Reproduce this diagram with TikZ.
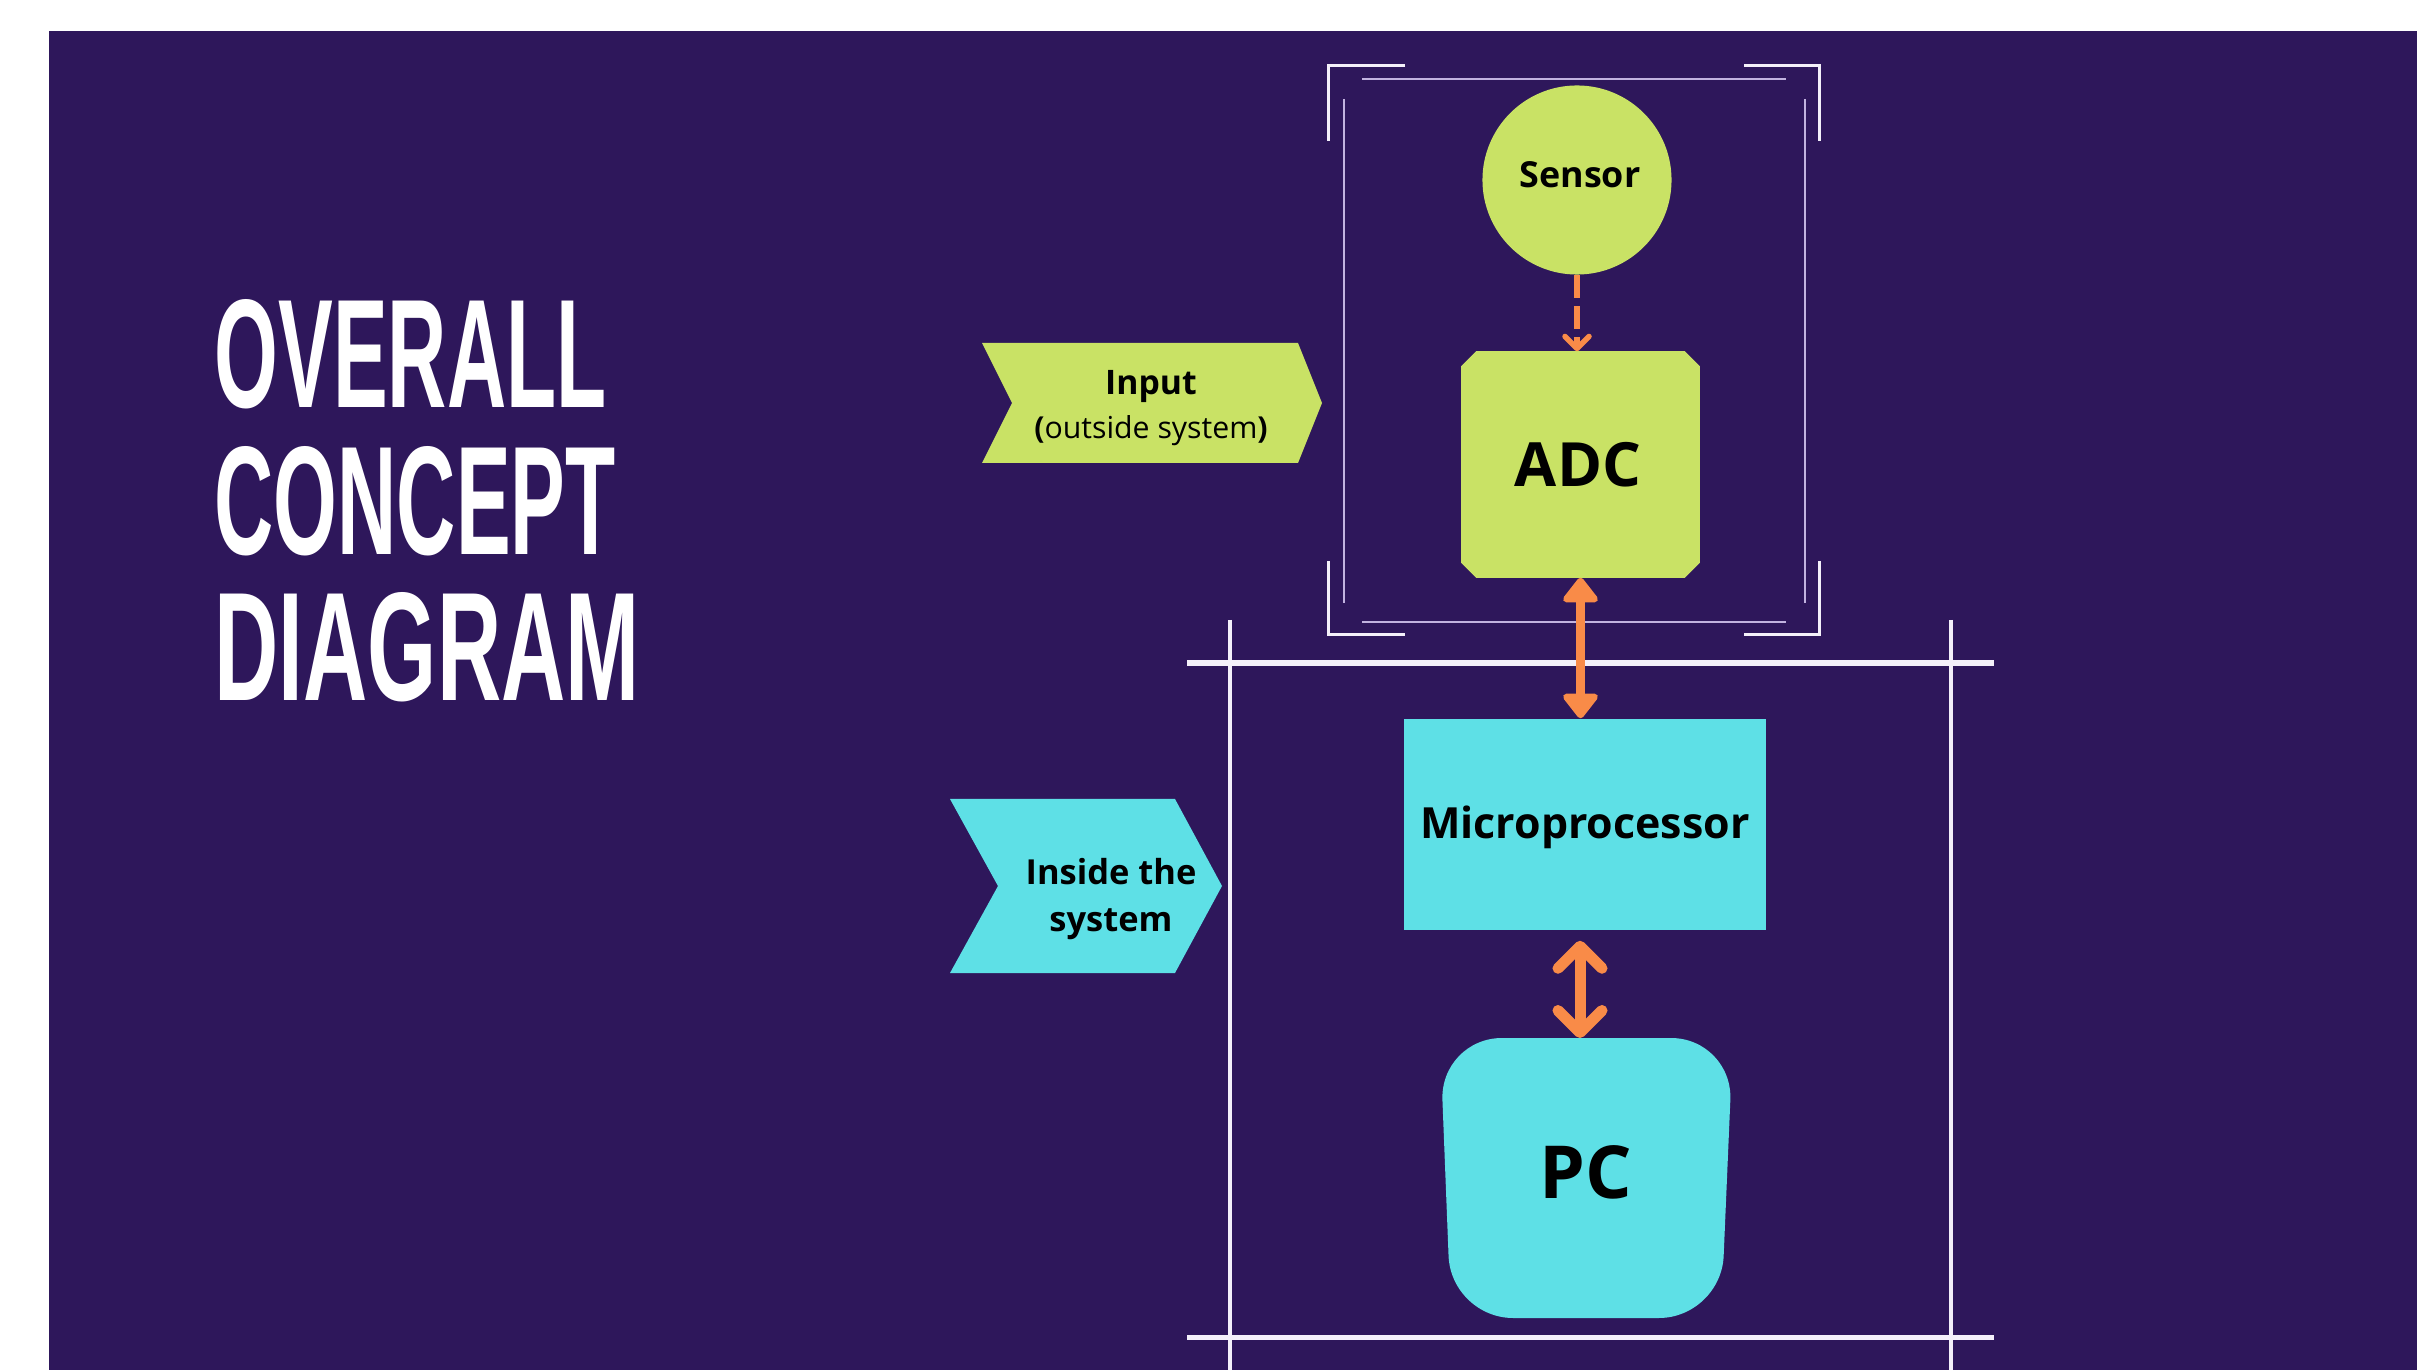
\documentclass[tikz,border=0pt]{standalone}
\usepackage{fontspec}
\setmainfont{Open Sans}
\newfontfamily\titlefont{Liberation Sans}
\usetikzlibrary{arrows.meta}
\definecolor{bgpurple}{HTML}{2E175B}
\definecolor{limefill}{HTML}{C9E265}
\definecolor{cyanfill}{HTML}{5EE0E6}
\definecolor{orangearr}{HTML}{F98B48}
\definecolor{framewhite}{HTML}{F4F0FA}
\definecolor{framelav}{HTML}{C2B3E0}
\begin{document}
\begin{tikzpicture}[x=0.01cm,y=-0.01cm,
  lbl/.style={inner sep=0pt, text=black, anchor=base},
  ttl/.style={inner sep=0pt, text=white, anchor=base west, font=\titlefont\bfseries\fontsize{44pt}{50pt}\selectfont},
  outerbr/.style={draw=framewhite, line width=0.03cm},
  innerln/.style={draw=framelav, line width=0.025cm},
  sysv/.style={draw=framewhite, line width=0.04cm},
  sysh/.style={draw=framewhite, line width=0.05cm},
  dasharrow/.style={draw=orangearr, line width=0.055cm, dash pattern=on 0.23cm off 0.08cm, -{Straight Barb[round, length=0.12cm, width=0.24cm]}},
  bigarrow/.style={draw=orangearr, line width=0.09cm, {Triangle[round, length=0.27cm, width=0.40cm]}-{Triangle[round, length=0.27cm, width=0.40cm]}},
  pcarrow/.style={draw=orangearr, line width=0.11cm, line cap=round, {Straight Barb[round, length=0.22cm, width=0.44cm]}-{Straight Barb[round, length=0.22cm, width=0.44cm]}}
]
% canvas
\useasboundingbox (0,0) rectangle (2417,1370);
\fill[white] (0,0) rectangle (2417,1370);
\fill[bgpurple] (49,31) rectangle (2417,1370);

% title
\node[ttl] (t1) at (214,408) {\scalebox{0.53}[1]{OVERALL}};
\node[ttl] (t2) at (214,555) {\scalebox{0.53}[1]{CONCEPT}};
\node[ttl] (t3) at (214,701) {\scalebox{0.575}[1]{DIAGRAM}};

% input frame: outer brackets
\draw[outerbr] (1405,66) -- (1328,66) -- (1328,141);
\draw[outerbr] (1744,66) -- (1819,66) -- (1819,141);
\draw[outerbr] (1328,561) -- (1328,635) -- (1405,635);
\draw[outerbr] (1819,561) -- (1819,635) -- (1744,635);
% input frame: inner lines
\draw[innerln] (1362,79) -- (1786,79);
\draw[innerln] (1362,622) -- (1786,622);
\draw[innerln] (1344,99) -- (1344,603);
\draw[innerln] (1805,99) -- (1805,603);

% system frame
\draw[sysv] (1230,620) -- (1230,1370);
\draw[sysv] (1951,620) -- (1951,1370);
\draw[sysh] (1187,663) -- (1994,663);
\draw[sysh] (1187,1337) -- (1994,1337);

% chevrons
\fill[limefill] (982,343) -- (1298,343) -- (1322,403) -- (1298,463) -- (982,463) -- (1012,403) -- cycle;
\node[lbl, font=\fontsize{9.6pt}{11pt}\selectfont\bfseries] (inputa) at (1151,395) {Input};
\node[lbl, font=\fontsize{8.6pt}{10pt}\selectfont] (inputb) at (1151,439) {{\bfseries(}outside system{\bfseries)}};

\fill[cyanfill] (950,799) -- (1175,799) -- (1222,886) -- (1175,973) -- (950,973) -- (998,886) -- cycle;
\node[lbl, font=\fontsize{9.8pt}{11pt}\selectfont\bfseries] (insidea) at (1111,884) {Inside the};
\node[lbl, font=\fontsize{9.8pt}{11pt}\selectfont\bfseries] (insideb) at (1111,932) {system};

% sensor
\node[circle, fill=limefill, minimum size=1.89cm, inner sep=0pt] (sensor) at (1577,180) {};
\node[lbl, font=\fontsize{10.2pt}{12pt}\selectfont\bfseries] (sensortxt) at (1580,188) {Sensor};

% ADC
\node[minimum width=2.37cm, minimum height=2.25cm, inner sep=0pt] (adc) at (1580.5,464.5) {};
\fill[limefill] ([xshift=0.15cm]adc.north west) -- ([xshift=-0.15cm]adc.north east)
  -- ([yshift=-0.15cm]adc.north east) -- ([yshift=0.15cm]adc.south east)
  -- ([xshift=-0.15cm]adc.south east) -- ([xshift=0.15cm]adc.south west)
  -- ([yshift=0.15cm]adc.south west) -- ([yshift=-0.15cm]adc.north west) -- cycle;
\node[lbl, font=\fontsize{17.35pt}{20pt}\selectfont\bfseries] (adctxt) at (1578,487) {ADC};

% microprocessor
\node[fill=cyanfill, minimum width=3.62cm, minimum height=2.11cm, inner sep=0pt] (micro) at (1585,824.5) {};
\node[lbl, font=\fontsize{12.2pt}{14pt}\selectfont\bfseries] (microtxt) at (1585,839) {Microprocessor};

% PC
\coordinate (pctop) at (1586,1038);
\fill[cyanfill, rounded corners=0.62cm] (1586,1038) -- (1733,1038) -- (1721,1318) -- (1451,1318) -- (1440,1038) -- cycle;
\node[lbl, font=\fontsize{20.8pt}{24pt}\selectfont\bfseries] (pctxt) at (1586,1198) {PC};

% connectors
\draw[dasharrow] (sensor.south) -- (sensor.south |- adc.north);
\draw[bigarrow] (adc.south) -- (adc.south |- micro.north);
\coordinate (pcarrtop) at ([xshift=-0.05cm,yshift=-0.1cm]micro.south);
\draw[pcarrow] (pcarrtop) -- (pcarrtop |- pctop);
\end{tikzpicture}
\end{document}
